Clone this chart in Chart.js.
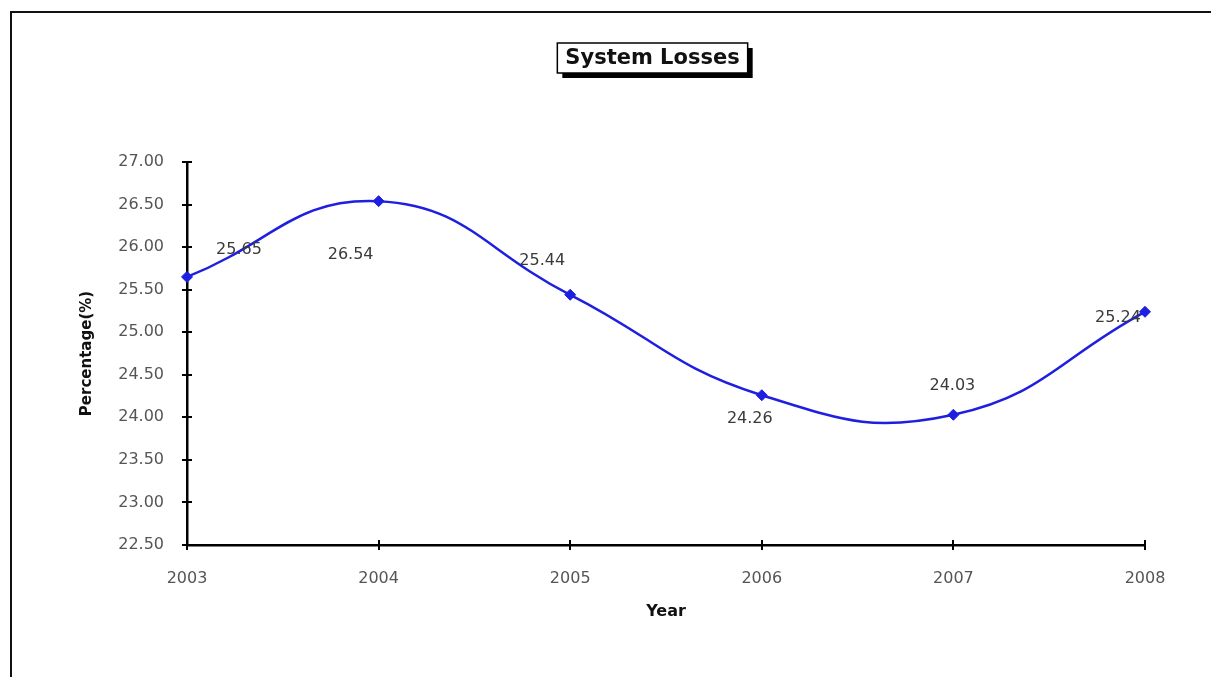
<!DOCTYPE html>
<html>
<head>
<meta charset="utf-8">
<title>System Losses</title>
<script src="https://cdn.jsdelivr.net/npm/chart.js@4/dist/chart.umd.min.js"></script>
<style>
  html, body { margin: 0; padding: 0; background: #fff; }
  #wrap { width: 1211px; height: 677px; position: relative; }
</style>
</head>
<body>
<div id="wrap"><canvas id="c" width="1211" height="677"></canvas></div>
<script>
// Chart data
const years = ['2003', '2004', '2005', '2006', '2007', '2008'];
const lossPercent = [25.65, 26.54, 25.44, 24.26, 24.03, 25.24];
const yTickValues = [22.5, 23.0, 23.5, 24.0, 24.5, 25.0, 25.5, 26.0, 26.5, 27.0];
const chartTitle = 'System Losses';
const xAxisTitle = 'Year';
const yAxisTitle = 'Percentage(%)';

const tickFont = { family: 'DejaVu Sans', size: 16 };
const LINE_BLUE = '#1f1fe0';

// Where each value label sits relative to its point (dx, dy in px)
const labelOffsets = [[52, -27], [-28, 54], [-28, -34], [-12, 24], [-1, -29], [-27, 6]];

// Frame, boxed title with drop shadow
const framePlugin = {
  id: 'frame',
  beforeDraw(chart) {
    const ctx = chart.ctx;
    ctx.save();
    ctx.fillStyle = '#fff';
    ctx.fillRect(0, 0, chart.width, chart.height);
    // outer border (top and left edges)
    ctx.strokeStyle = '#111';
    ctx.lineWidth = 2;
    ctx.beginPath();
    ctx.moveTo(11, chart.height);
    ctx.lineTo(11, 12);
    ctx.lineTo(chart.width, 12);
    ctx.stroke();

    // title box
    ctx.font = 'bold 21px "DejaVu Sans"';
    const tw = ctx.measureText(chartTitle).width;
    const cx = 652.5, cy = 58;
    const bw = tw + 16, bh = 30;
    const bx = cx - bw / 2, by = cy - bh / 2;
    ctx.fillStyle = '#000';
    ctx.fillRect(bx + 5, by + 5, bw, bh);
    ctx.fillStyle = '#fff';
    ctx.fillRect(bx, by, bw, bh);
    ctx.strokeStyle = '#000';
    ctx.lineWidth = 1.5;
    ctx.strokeRect(bx, by, bw, bh);
    ctx.fillStyle = '#111';
    ctx.textAlign = 'center';
    ctx.textBaseline = 'middle';
    ctx.fillText(chartTitle, cx, cy + 1);
    ctx.restore();
  }
};

// Tick marks that cross the axis lines
const crossTicksPlugin = {
  id: 'crossTicks',
  afterDraw(chart) {
    const ctx = chart.ctx;
    const xs = chart.scales.x, ys = chart.scales.y;
    const area = chart.chartArea;
    ctx.save();
    ctx.strokeStyle = '#000';
    ctx.lineWidth = 2;
    ctx.beginPath();
    ys.ticks.forEach((t, i) => {
      const py = Math.round(ys.getPixelForTick(i));
      ctx.moveTo(area.left - 5, py);
      ctx.lineTo(area.left + 5, py);
    });
    xs.ticks.forEach((t, i) => {
      const px = Math.round(xs.getPixelForTick(i));
      ctx.moveTo(px, area.bottom - 5);
      ctx.lineTo(px, area.bottom + 5);
    });
    ctx.stroke();
    ctx.restore();
  }
};

// Value labels beside each point
const valueLabelPlugin = {
  id: 'valueLabels',
  afterDatasetsDraw(chart) {
    const ctx = chart.ctx;
    const meta = chart.getDatasetMeta(0);
    const data = chart.data.datasets[0].data;
    ctx.save();
    ctx.font = '16px "DejaVu Sans"';
    ctx.fillStyle = '#3a3a3a';
    ctx.textAlign = 'center';
    ctx.textBaseline = 'middle';
    meta.data.forEach((pt, i) => {
      const off = labelOffsets[i] || [0, -20];
      ctx.fillText(data[i].toFixed(2), pt.x + off[0], pt.y + off[1]);
    });
    ctx.restore();
  }
};

new Chart(document.getElementById('c'), {
  type: 'line',
  data: {
    labels: years,
    datasets: [{
      label: 'System Losses',
      data: lossPercent,
      borderColor: LINE_BLUE,
      backgroundColor: LINE_BLUE,
      borderWidth: 2.5,
      tension: 0.45,
      pointStyle: 'rectRot',
      pointRadius: 5.5,
      pointBackgroundColor: LINE_BLUE,
      pointBorderColor: LINE_BLUE,
      pointBorderWidth: 1,
      fill: false
    }]
  },
  options: {
    responsive: false,
    animation: false,
    devicePixelRatio: 1,
    layout: { padding: { top: 162, right: 66, bottom: 0, left: 0 } },
    plugins: {
      legend: { display: false },
      title: { display: false },
      tooltip: { enabled: false }
    },
    scales: {
      x: {
        type: 'category',
        offset: false,
        grid: { display: false, drawTicks: false },
        border: { display: true, color: '#000', width: 2.5 },
        ticks: { font: tickFont, color: '#555', padding: 24, maxRotation: 0, autoSkip: false },
        title: {
          display: true,
          text: xAxisTitle,
          font: { family: 'DejaVu Sans', size: 16, weight: 'bold' },
          color: '#111',
          padding: { top: 0, bottom: 56 }
        },
        afterFit(scale) { scale.height = 677 - 545; }
      },
      y: {
        type: 'linear',
        min: 22.5,
        max: 27,
        afterBuildTicks(scale) { scale.ticks = yTickValues.map(v => ({ value: v })); },
        grid: { display: false, drawTicks: false },
        border: { display: true, color: '#000', width: 2.5 },
        ticks: {
          font: tickFont,
          color: '#555',
          padding: 23,
          callback: v => Number(v).toFixed(2)
        },
        title: {
          display: true,
          text: yAxisTitle,
          font: { family: 'DejaVu Sans', size: 15, weight: 'bold' },
          color: '#111',
          padding: { top: 78, bottom: 0 }
        },
        afterFit(scale) { scale.width = 187; }
      }
    }
  },
  plugins: [framePlugin, crossTicksPlugin, valueLabelPlugin]
});
</script>
</body>
</html>
